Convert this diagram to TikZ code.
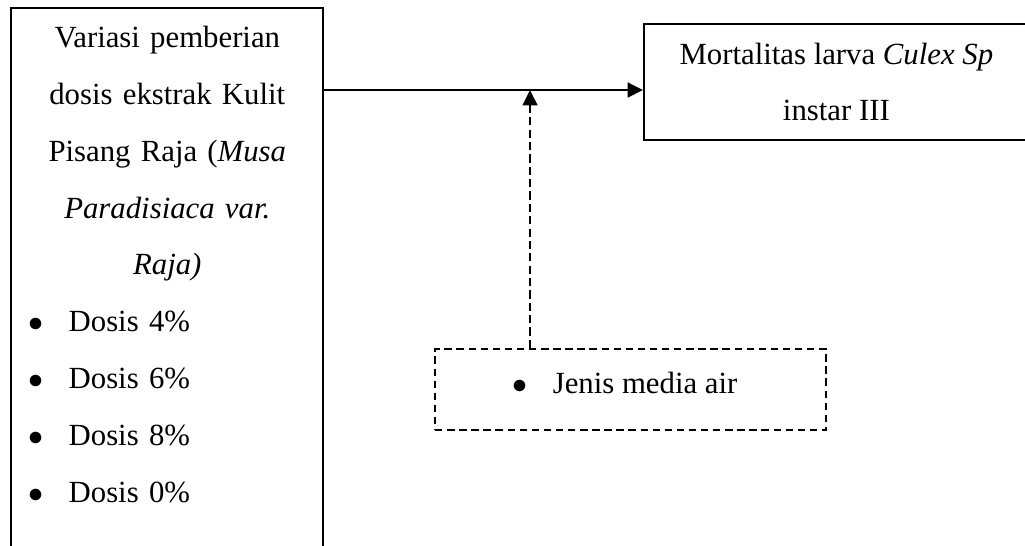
\documentclass[tikz,border=0pt]{standalone}
\usepackage{fontspec}
\setmainfont{Liberation Serif}
\usetikzlibrary{arrows.meta,positioning}
\tikzset{
    block/.style={
        rectangle,
        draw,
        line width=0.75pt,
        align=center,
        inner sep=0pt,
        font=\fontsize{11.2}{20.7}\selectfont % Word-like 1.5 line spacing
    },
    extbox/.style={
        block,
        dash pattern=on 2.7pt off 1.7pt
    },
    >={Triangle[length=5.6pt,width=5.4pt]}
}
\newcommand{\bulletline}[1]{\makebox[14.6pt][l]{$\bullet$}#1}
\newcommand{\doseline}[1]{\makebox[\linewidth][l]{\bulletline{#1}}}

\begin{document}
\begin{tikzpicture}[x=0.364pt, y=-0.364pt]
    \useasboundingbox (0,0) rectangle (1025,545);
    \clip (0,0) rectangle (1025,545);

    \node (dosis) [block, anchor=north, text width=101pt, inner xsep=6.3pt, inner ysep=6.6pt, text depth=220pt] at (167.3,7) {
        Variasi pemberian\\
        dosis ekstrak Kulit\\
        Pisang Raja (\textit{Musa}\\
        \textit{Paradisiaca var.}\\
        \textit{Raja)}\\
        \doseline{Dosis 4\%}\\
        \doseline{Dosis 6\%}\\
        \doseline{Dosis 8\%}\\
        \doseline{Dosis 0\%}};
    \node (mortal) [block, anchor=north west, minimum width=140pt, minimum height=42.2pt] at (643,23) {Mortalitas larva \textit{Culex Sp}\\ instar III};
    \node (media) [extbox, anchor=north west, minimum width=142.3pt, text height=16pt, text depth=13.5pt] at (434,348) {\bulletline{Jenis media air}\hspace{4pt}};

    \coordinate (join) at (530,90);
    \draw [->, line width=0.75pt] (dosis.east |- join) -- (mortal.west |- join);
    \draw [->, line width=0.75pt, dash pattern=on 3pt off 1.5pt] (media.north -| join) -- (join);
\end{tikzpicture}
\end{document}
